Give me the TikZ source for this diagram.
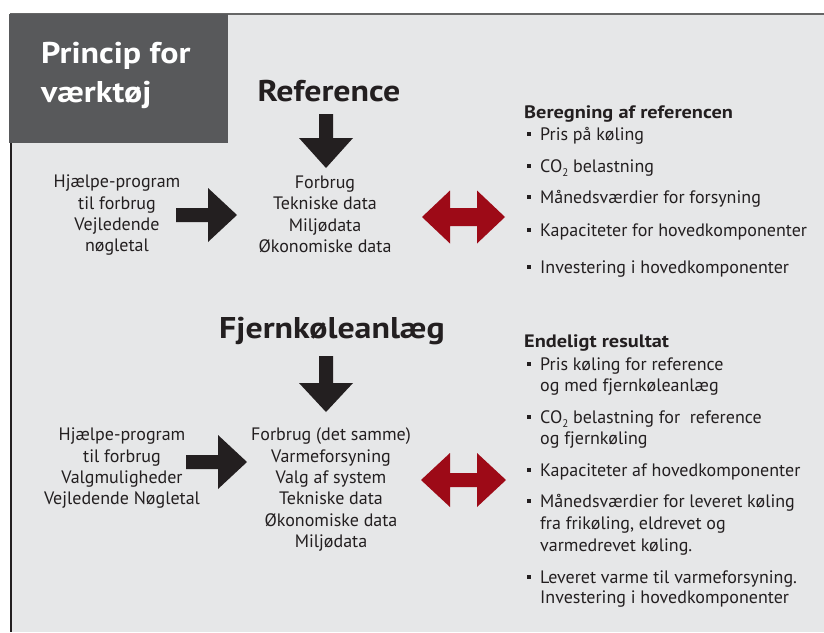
\documentclass[tikz,border=0pt]{standalone}
\usepackage{fontspec}
\setmainfont{PT Sans}
\newfontfamily\widebf{PT Sans}[FakeStretch=1.13]
\definecolor{panel}{RGB}{230,231,232}
\definecolor{boxgrey}{RGB}{88,89,91}
\definecolor{ink}{RGB}{35,31,32}
\definecolor{darkred}{RGB}{157,10,23}
\newcommand{\subtwo}{\raisebox{-4.5pt}{\fontsize{11}{11}\selectfont 2}}

\begin{document}
\begin{tikzpicture}[x=1pt,y=-1pt,
    body/.style={font=\fontsize{18}{21.3}\selectfont, text=ink, inner sep=0pt, align=center, anchor=north},
    item/.style={font=\fontsize{18}{21.3}\selectfont, text=ink, inner sep=0pt, anchor=base west},
    head/.style={font=\fontsize{18}{21.3}\selectfont\widebf\bfseries, text=ink, inner sep=0pt, anchor=base west},
    big/.style={font=\fontsize{30}{36}\selectfont\widebf\bfseries, inner sep=0pt, anchor=base}]
    \useasboundingbox (0,0) rectangle (824,632);
    \fill[white] (0,0) rectangle (824,632);
    \fill[panel] (10,14) rectangle (824,632);
    \draw[line width=2pt, black!60] (10,13.5) -- (824,13.5);
    \draw[line width=2pt, ink] (11,14) -- (11,632);
    \fill[boxgrey] (9,14) rectangle (228,143);
    \node[big, anchor=base west, text=white] (tPrincip) at (41,63) {Princip for};
    \node[big, anchor=base west, text=white] (tVaerk) at (41,102) {værktøj};

    % reference
    \node[big, text=ink] (tRef) at (329,101) {Reference};
    \coordinate (d1) at (326,168);
    \fill[ink] (d1) -- ++(-27,-30) -- ++(20,0) -- ++(0,-24) -- ++(14,0) -- ++(0,24) -- ++(20,0) -- cycle;
    \node[body] (refIn) at (117,174.8) {Hjælpe-program\\til forbrug\\Vejledende\\nøgletal};
    \node[body] (refData) at (325,175.8) {Forbrug\\Tekniske data\\Miljødata\\Økonomiske data};
    \coordinate (r1) at (237,215);
    \fill[ink] (r1) -- ++(-29,-27) -- ++(0,20) -- ++(-32,0) -- ++(0,14) -- ++(32,0) -- ++(0,20) -- cycle;
    \coordinate (dr1) at (422,217);
    \fill[darkred] (dr1) -- ++(28,-26.5) -- ++(0,17.5) -- ++(27,0) -- ++(0,-17.5) -- ++(28,26.5)
        -- ++(-28,26.5) -- ++(0,-17.5) -- ++(-27,0) -- ++(0,17.5) -- cycle;

    \node[head] (hBeregn) at (524,118) {Beregning af referencen};
    \node[item] (b1) at (540,140) {Pris på køling};
    \node[item] (b2) at (540,172) {CO\subtwo{} belastning};
    \node[item] (b3) at (540,203) {Månedsværdier for forsyning};
    \node[item] (b4) at (540,236) {Kapaciteter for hovedkomponenter};
    \node[item] (b5) at (540,273) {Investering i hovedkomponenter};
    \foreach \y in {140,172,203,236,273}
        \fill[ink] (526.5,\y-4.3) rectangle ++(4,-4);

    % fjernkoeleanlaeg
    \node[big, text=ink] (tFjern) at (332,338) {Fjernkøleanlæg};
    \coordinate (d2) at (326,412);
    \fill[ink] (d2) -- ++(-27,-29) -- ++(20,0) -- ++(0,-27) -- ++(14,0) -- ++(0,27) -- ++(20,0) -- cycle;
    \node[body] (fjIn) at (122,427.8) {Hjælpe-program\\til forbrug\\Valgmuligheder\\Vejledende Nøgletal};
    \node[body] (fjData) at (331,427.8) {Forbrug (det samme)\\Varmeforsyning\\Valg af system\\Tekniske data\\Økonomiske data\\Miljødata};
    \coordinate (r2) at (247,462);
    \fill[ink] (r2) -- ++(-29,-27) -- ++(0,20) -- ++(-32,0) -- ++(0,14) -- ++(32,0) -- ++(0,20) -- cycle;
    \coordinate (dr2) at (421,480);
    \fill[darkred] (dr2) -- ++(29,-27) -- ++(0,20) -- ++(27,0) -- ++(0,-20) -- ++(29,27)
        -- ++(-29,27) -- ++(0,-20) -- ++(-27,0) -- ++(0,20) -- cycle;

    \node[head] (hEndelig) at (524,347) {Endeligt resultat};
    \node[item] (e1) at (540,370) {Pris køling for reference};
    \node[item] (e1b) at (540,391) {og med fjernkøleanlæg};
    \node[item] (e2) at (540,423) {CO\subtwo{} belastning for\ \ reference};
    \node[item] (e2b) at (540,444) {og fjernkøling};
    \node[item] (e3) at (540,476) {Kapaciteter af hovedkomponenter};
    \node[item] (e4) at (540,507) {Månedsværdier for leveret køling};
    \node[item] (e4b) at (540,529) {fra frikøling, eldrevet og};
    \node[item] (e4c) at (540,551) {varmedrevet køling.};
    \node[item] (e5) at (540,583) {Leveret varme til varmeforsyning.};
    \node[item] (e5b) at (540,603) {Investering i hovedkomponenter};
    \foreach \y in {370,423,476,507,583}
        \fill[ink] (526.5,\y-4.3) rectangle ++(4,-4);
\end{tikzpicture}
\end{document}
